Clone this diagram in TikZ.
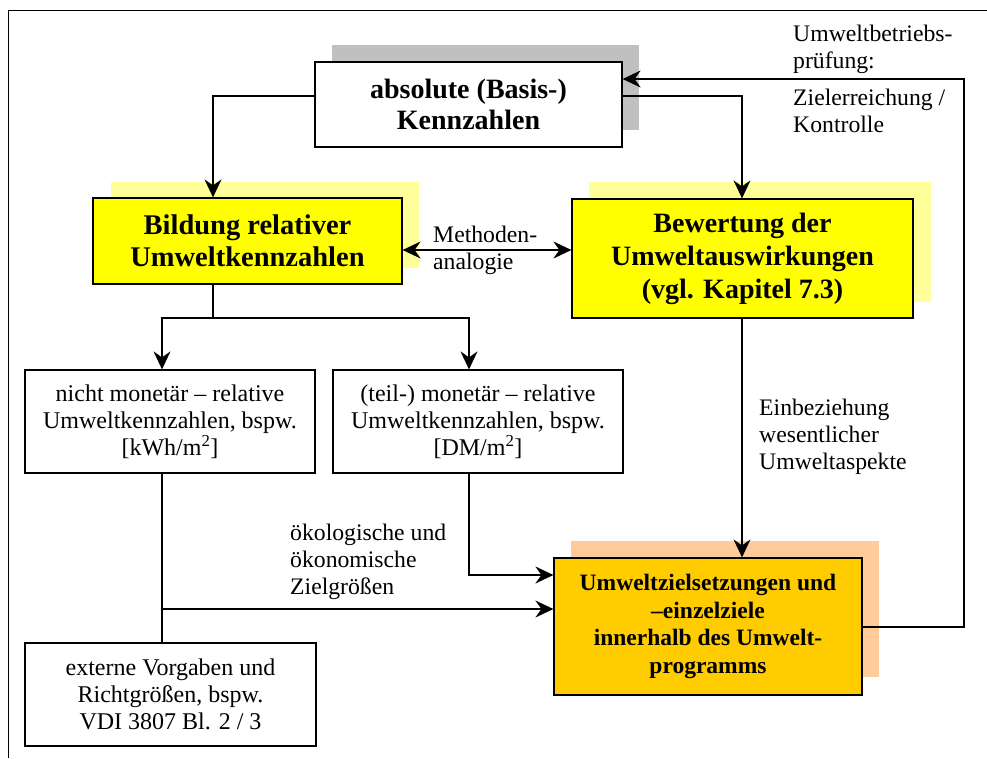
\documentclass[tikz,border=0pt]{standalone}
\usepackage{fontspec}
\setmainfont{Liberation Serif}
\usetikzlibrary{arrows.meta}
\definecolor{shgray}{HTML}{C0C0C0}
\definecolor{shyel}{HTML}{FFFF99}
\definecolor{boxyel}{HTML}{FFFF00}
\definecolor{shorange}{HTML}{FFCC99}
\definecolor{boxorange}{HTML}{FFCC00}
\begin{document}
\begin{tikzpicture}[x=1pt,y=-1pt,
  box/.style={draw, line width=1.2pt, rectangle, inner sep=0pt, align=center},
  regtext/.style={font=\fontsize{24}{27}\selectfont},
  conn/.style={line width=1.4pt},
  tip/.tip={Stealth[length=18pt,width=17pt,inset=6pt]},
  arr/.style={conn,-tip},
  lbl/.style={inner sep=0pt, anchor=west, align=left, font=\fontsize{23.7}{27}\selectfont}]
\useasboundingbox (0,0) rectangle (987,758);
\fill[white] (0,0) rectangle (987,758);
% frame
\draw[line width=1pt] (8,758) -- (8,10) -- (987,10);
% shadows
\fill[shgray] (332,45) rectangle (639,130);
\fill[shyel] (111,182) rectangle (419,268);
\fill[shyel] (589,182) rectangle (931,302);
\fill[shorange] (571,541) rectangle (879,677);
% boxes
\node[box, fill=white, minimum width=307pt, minimum height=85pt,
  font=\bfseries\fontsize{28}{31}\selectfont] (top) at (468.5,104.5) {absolute (Basis-)\\Kennzahlen};
\node[box, fill=boxyel, minimum width=309pt, minimum height=86pt,
  font=\bfseries\fontsize{28.5}{32}\selectfont] (bild) at (247.5,241) {Bildung relativer\\Umweltkennzahlen};
\node[box, fill=boxyel, minimum width=341pt, minimum height=119pt,
  font=\bfseries\fontsize{28}{33}\selectfont] (bew) at (742.5,258.5) {Bewertung der\\Umweltauswirkungen\\(vgl. Kapitel 7.3)};
\node[box, fill=white, regtext, minimum width=290pt, minimum height=103pt] (nicht) at (170,421.5)
  {nicht monetär -- relative\\Umweltkennzahlen, bspw.\\ {[}kWh/m\textsuperscript{2}{]}};
\node[box, fill=white, regtext, minimum width=290pt, minimum height=103pt] (teil) at (478,421.5)
  {(teil-) monetär -- relative\\Umweltkennzahlen, bspw.\\ {[}DM/m\textsuperscript{2}{]}};
\node[box, fill=white, regtext, minimum width=291pt, minimum height=103pt] (ext) at (170.5,694.5)
  {externe Vorgaben und\\Richtgrößen, bspw.\\VDI 3807 Bl. 2 / 3};
\node[box, fill=boxorange, minimum width=308pt, minimum height=137pt,
  font=\bfseries\fontsize{23.5}{27.5}\selectfont] (zl) at (708,626.5)
  {Umweltzielsetzungen und\\--einzelziele\\innerhalb des Umwelt-\\programms};
% helper coordinates
\coordinate (ya) at (0,96);
\coordinate (yfb) at (0,79);
\coordinate (xL) at (213,0);
\coordinate (xR) at (742,0);
\coordinate (xn) at (162,0);
\coordinate (xt) at (469,0);
\coordinate (xfb) at (964,0);
\coordinate (ysplit) at (0,318);
\coordinate (ym) at (0,250);
\coordinate (yz1) at (0,575);
\coordinate (yz2) at (0,609);
\coordinate (yzout) at (0,627);
% connectors
\draw[arr] (top.west |- ya) -| (bild.north -| xL);
\draw[arr] (top.east |- ya) -| (bew.north -| xR);
\draw[arr] (zl.east |- yzout) -| (xfb |- yfb) -- (top.east |- yfb);
\draw[conn, tip-tip] (bild.east |- ym) -- (bew.west |- ym);
\draw[conn] (bild.south -| xL) -- (xL |- ysplit);
\draw[arr] (xL |- ysplit) -| (nicht.north -| xn);
\draw[arr] (xL |- ysplit) -| (teil.north -| xt);
\draw[arr] (bew.south -| xR) -- (zl.north -| xR);
\draw[conn] (nicht.south -| xn) -- (ext.north -| xn);
\draw[arr] (xn |- yz2) -- (zl.west |- yz2);
\draw[arr] (teil.south -| xt) |- (zl.west |- yz1);
% labels
\node[lbl] (meth) at (433,250) {Methoden-\\analogie};
\node[lbl] (ubp) at (793,49) {Umweltbetriebs-\\prüfung:};
\node[lbl] (ziel) at (793,111) {Zielerreichung /\\Kontrolle};
\node[lbl] (einb) at (759,437) {Einbeziehung\\wesentlicher\\Umweltaspekte};
\node[lbl] (oeko) at (290,562) {ökologische und\\ökonomische\\Zielgrößen};
\end{tikzpicture}
\end{document}
